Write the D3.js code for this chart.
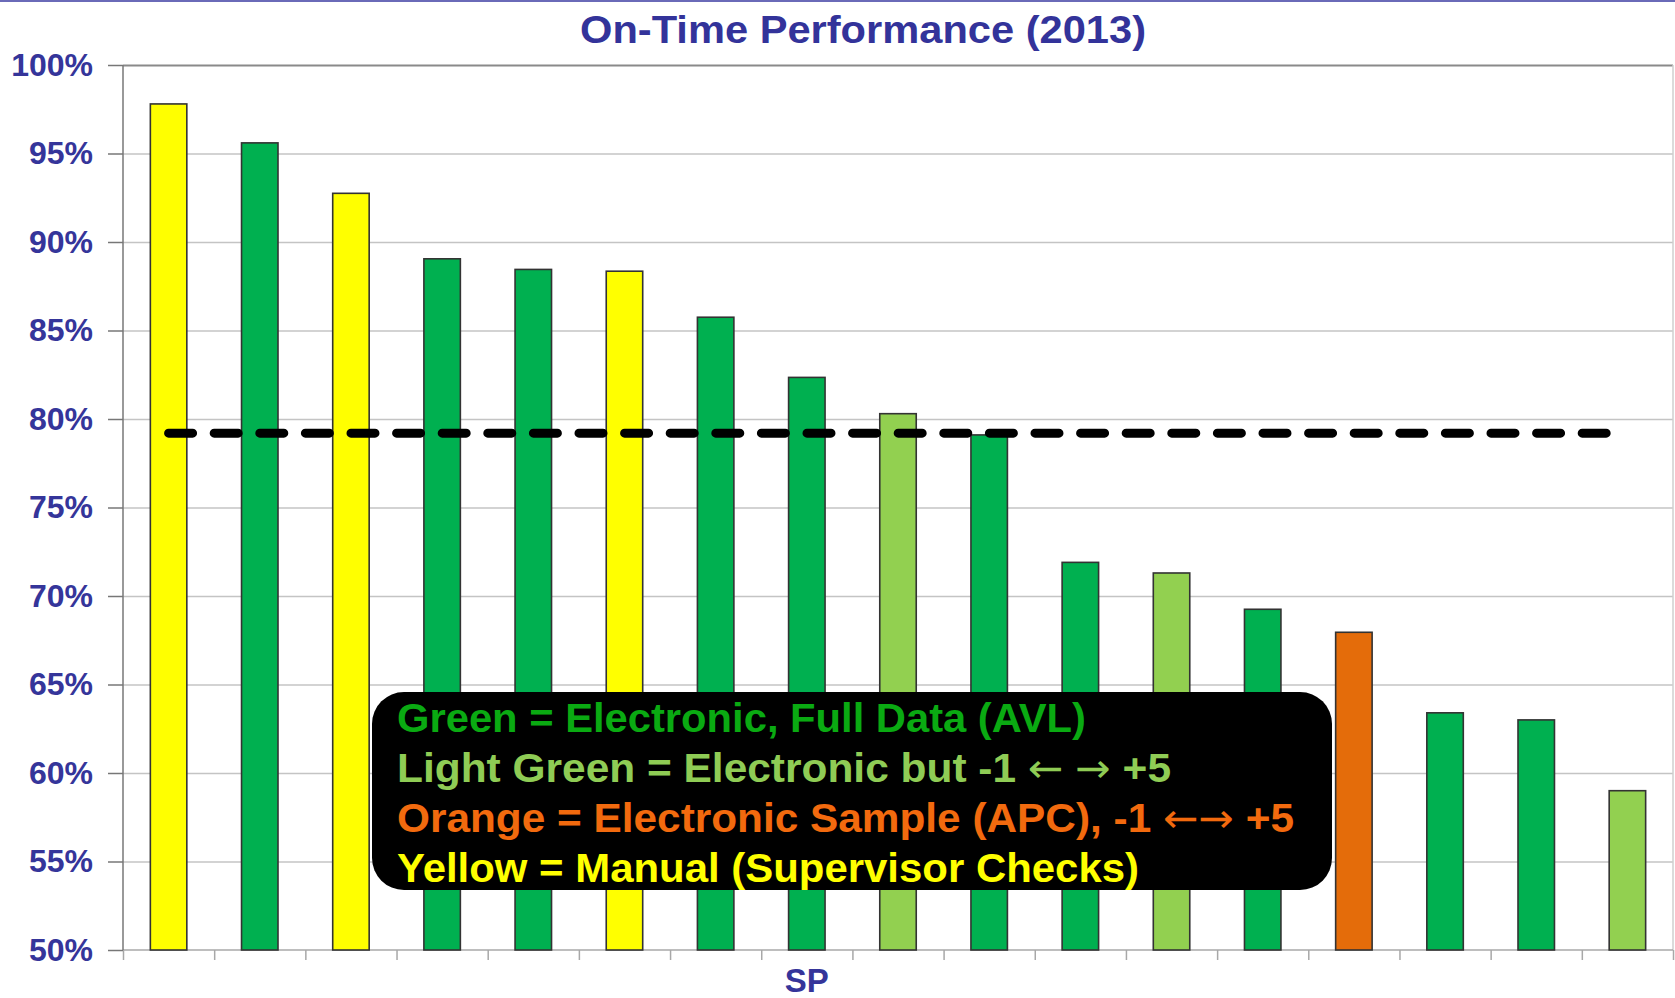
<!DOCTYPE html>
<html>
<head>
<meta charset="utf-8">
<title>On-Time Performance (2013)</title>
<script src="https://cdn.jsdelivr.net/npm/d3@7"></script>
<style>
  html, body { margin: 0; padding: 0; background: #fff; }
  svg { display: block; font-family: "Liberation Sans", Arial, sans-serif; font-weight: bold; }
  .y-axis text { fill: #35359a; font-size: 32px; }
  .y-axis path, .y-axis line { stroke: #777; stroke-width: 1.5; }
  .grid line { stroke: #c4c4c4; stroke-width: 1.6; }
  .grid path { display: none; }
  .x-ticks line, .x-ticks path { stroke: #a8a8a8; stroke-width: 1.5; }
  .bar { stroke: #333; stroke-width: 1.6; }
</style>
</head>
<body>
<svg id="chart" width="1675" height="998"></svg>
<script>
  // --- Data ---
  const xLabels = ["", "", "", "", "", "", "", "SP", "", "", "", "", "", "", "", "", ""];
  const values  = [97.8, 95.6, 92.75, 89.05, 88.45, 88.35, 85.75, 82.35, 80.3, 79.1,
                   71.9, 71.3, 69.25, 67.95, 63.4, 63.0, 59.0];
  const methods = ["yellow", "green", "yellow", "green", "green", "yellow", "green", "green", "light",
                   "green", "green", "light", "green", "orange", "green", "green", "light"];
  const goal = 79.2;
  const yTicks = [50, 55, 60, 65, 70, 75, 80, 85, 90, 95, 100];
  const legendLines = [
    { text: "Green = Electronic, Full Data (AVL)", key: "green" },
    { text: "Light Green = Electronic but -1 \u2190 \u2192 +5", key: "light" },
    { text: "Orange = Electronic Sample (APC), -1 \u2190\u2192 +5", key: "orange" },
    { text: "Yellow = Manual (Supervisor Checks)", key: "yellow" }
  ];

  const barColor = { yellow: "#ffff00", green: "#00b050", light: "#92d050", orange: "#e46c0a" };
  const textColor = { yellow: "#ffff00", green: "#0aaa12", light: "#8fcc55", orange: "#f26a0e" };
  const legendWidths = [689, 774, 897, 742];

  (function () {
    "use strict";

    // --- Layout ---
    const svg = d3.select("#chart");
    const plotLeft = 123, plotRight = 1673, plotTop = 65, plotBottom = 950;

    const x = d3.scaleBand()
      .domain(d3.range(values.length))
      .range([plotLeft, plotRight])
      .paddingInner(0.6)
      .paddingOuter(0.3);

    const xEdge = d3.scaleLinear().domain([0, values.length]).range([plotLeft, plotRight]);

    const y = d3.scaleLinear().domain([50, 100]).range([plotBottom, plotTop]);

    // top border
    svg.append("rect").attr("x", 0).attr("y", 0).attr("width", 1675).attr("height", 2)
      .attr("fill", "#6a6ab8");

    // gridlines
    svg.append("g").attr("class", "grid")
      .attr("transform", `translate(${plotLeft},0)`)
      .call(d3.axisLeft(y).tickValues(yTicks.slice(1)).tickSize(-(plotRight - plotLeft)).tickFormat(""));
    svg.select(".grid").selectAll(".tick line").filter(d => d === 100)
      .style("stroke", "#8a8a8a").style("stroke-width", 2.2);

    // right border
    svg.append("line").attr("x1", plotRight).attr("x2", plotRight).attr("y1", plotTop).attr("y2", plotBottom)
      .attr("stroke", "#cfcfcf").attr("stroke-width", 1.5);

    // x tick marks at category edges
    svg.append("g").attr("class", "x-ticks")
      .attr("transform", `translate(0,${plotBottom})`)
      .call(d3.axisBottom(xEdge).tickValues(d3.range(values.length + 1)).tickSize(10).tickFormat(""))
      .call(g => g.select(".domain").attr("d", `M${plotLeft},0H${plotRight}`));

    // bars
    svg.append("g").selectAll("rect")
      .data(values)
      .join("rect")
      .attr("class", "bar")
      .attr("x", (d, i) => x(i))
      .attr("width", x.bandwidth())
      .attr("y", d => y(d))
      .attr("height", d => y(50) - y(d))
      .attr("fill", (d, i) => barColor[methods[i]]);

    // y axis
    svg.append("g").attr("class", "y-axis")
      .attr("transform", `translate(${plotLeft},0)`)
      .call(d3.axisLeft(y).tickValues(yTicks).tickSize(15).tickPadding(15).tickFormat(d => d + "%"))
      .call(g => g.select(".domain").attr("d", `M0,${plotBottom}V${plotTop}`));

    // x labels (only one legible)
    svg.append("g").selectAll("text")
      .data(xLabels)
      .join("text")
      .attr("x", (d, i) => x(i) + x.bandwidth() / 2)
      .attr("y", 992)
      .attr("text-anchor", "middle")
      .attr("fill", "#35359a")
      .attr("font-size", 33)
      .text(d => d);

    // goal line
    const first = 0, last = values.length - 1;
    svg.append("line")
      .attr("x1", x(first) + x.bandwidth() / 2)
      .attr("x2", x(last) + x.bandwidth() / 2)
      .attr("y1", y(goal)).attr("y2", y(goal))
      .attr("stroke", "#000")
      .attr("stroke-width", 9)
      .attr("stroke-linecap", "round")
      .attr("stroke-dasharray", "24,21.6");

    // title
    svg.append("text")
      .attr("x", 863).attr("y", 43)
      .attr("text-anchor", "middle")
      .attr("fill", "#33339a")
      .attr("font-size", 39)
      .attr("textLength", 566)
      .attr("lengthAdjust", "spacingAndGlyphs")
      .text("On-Time Performance (2013)");

    // legend box
    const legend = svg.append("g");
    legend.append("rect")
      .attr("x", 372).attr("y", 692).attr("width", 960).attr("height", 198)
      .attr("rx", 32).attr("ry", 32)
      .attr("fill", "#000");
    const isArrow = s => /[\u2190\u2192]/.test(s);
    legend.selectAll("text")
      .data(legendLines)
      .join("text")
      .attr("x", 397)
      .attr("y", (d, i) => 732 + i * 50)
      .attr("font-size", 40)
      .attr("fill", d => textColor[d.key])
      .attr("textLength", (d, i) => legendWidths[i])
      .attr("lengthAdjust", "spacingAndGlyphs")
      .each(function (d) {
        d3.select(this).selectAll("tspan")
          .data(d.text.split(/([\u2190\u2192])/).filter(s => s.length))
          .join("tspan")
          .attr("font-family", s => isArrow(s) ? "DejaVu Sans" : null)
          .attr("font-weight", s => isArrow(s) ? "normal" : null)
          .text(s => s);
      });
  })();
</script>
</body>
</html>
